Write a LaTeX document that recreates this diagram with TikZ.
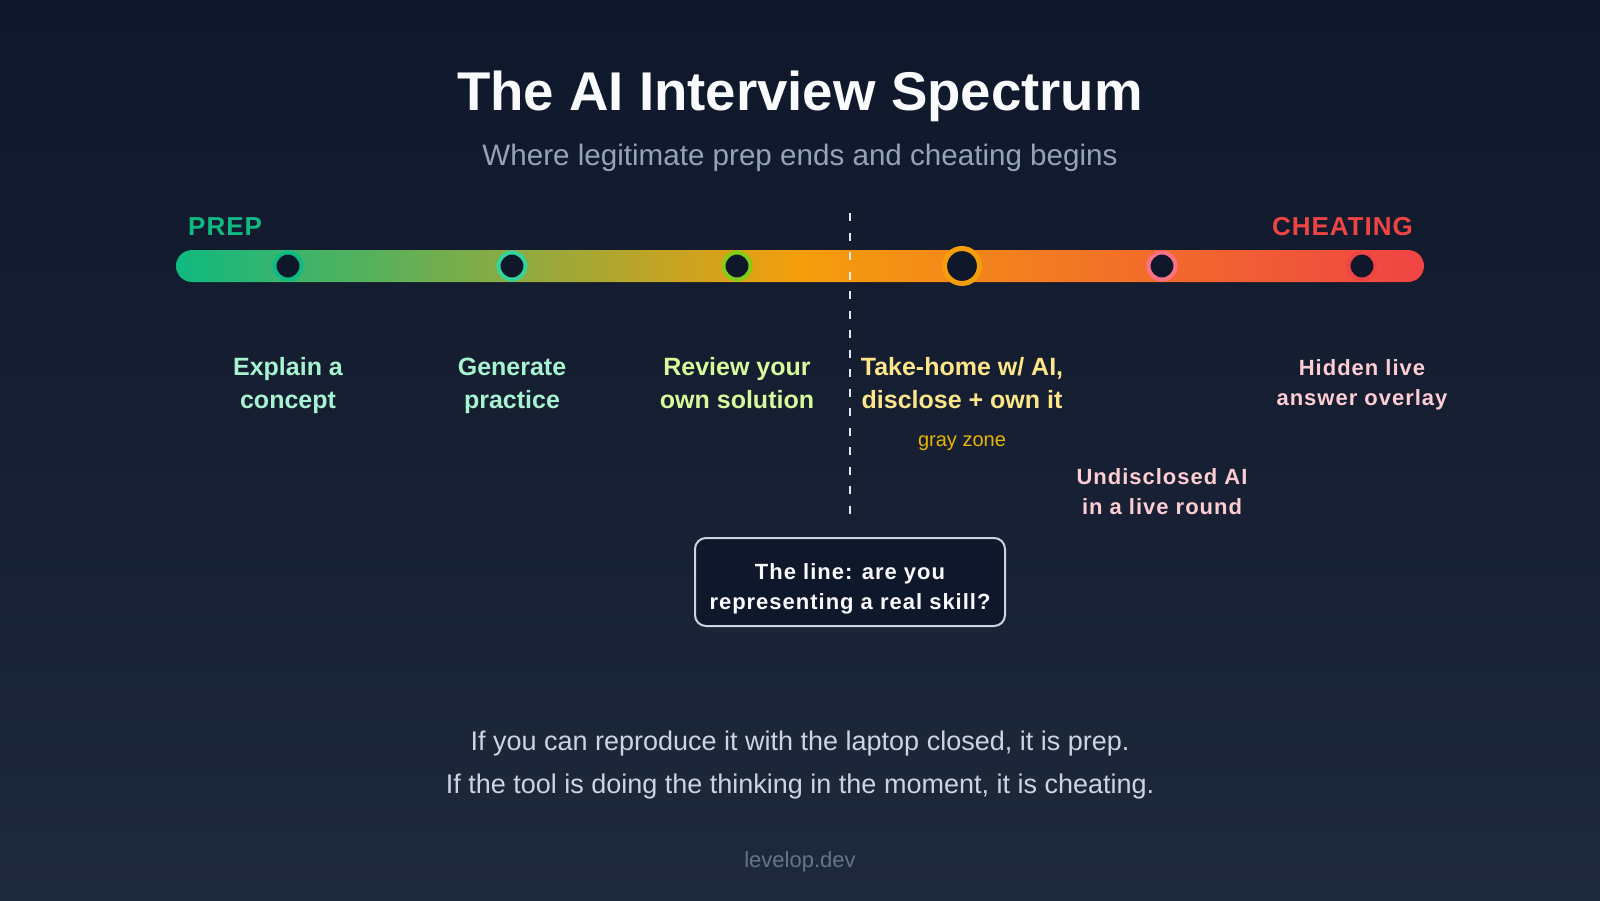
\documentclass[tikz,border=0pt]{standalone}
\usepackage{fontspec}
\setmainfont{Liberation Sans}
\newfontfamily\trackA[LetterSpace=4.5]{Liberation Sans}
\newfontfamily\trackB[LetterSpace=3.8]{Liberation Sans}
\definecolor{bgtop}{HTML}{0F172A}
\definecolor{bgbot}{HTML}{1E293B}
\definecolor{cgreen}{HTML}{10B981}
\definecolor{camber}{HTML}{F59E0B}
\definecolor{cred}{HTML}{EF4444}
\definecolor{ringmint}{HTML}{34D399}
\definecolor{ringlime}{HTML}{84CC16}
\definecolor{ringpink}{HTML}{FB7185}
\definecolor{dotfill}{HTML}{0F172A}
\definecolor{titlec}{HTML}{F8FAFC}
\definecolor{subc}{HTML}{94A3B8}
\definecolor{mintc}{HTML}{A7F3D0}
\definecolor{limec}{HTML}{D9F99D}
\definecolor{yellowc}{HTML}{FDE68A}
\definecolor{grayzonec}{HTML}{EAB308}
\definecolor{pinkc}{HTML}{FECDD3}
\definecolor{boxline}{HTML}{CBD5E1}
\definecolor{bottomc}{HTML}{CBD5E1}
\definecolor{footc}{HTML}{64748B}
\definecolor{dashc}{HTML}{E2E8F0}
\begin{document}
\begin{tikzpicture}[x=1pt,y=-1pt,
  dot/.style={circle, fill=dotfill, line width=4pt, minimum size=27pt, inner sep=0pt},
  bigdot/.style={circle, fill=dotfill, line width=5pt, minimum size=35pt, inner sep=0pt},
  steplabel/.style={align=center, anchor=base, inner sep=0pt, font=\bfseries\fontsize{25}{33}\selectfont},
  tracklabel/.style={align=center, anchor=base, inner sep=0pt, font=\trackA\bfseries\fontsize{22}{29.5}\selectfont},
  endlabel/.style={anchor=base, inner sep=0pt, font=\trackB\bfseries\fontsize{26}{30}\selectfont},
  linebox/.style={draw=boxline, line width=2pt, fill=dotfill, rounded corners=11pt,
     minimum width=310pt, minimum height=88pt, inner sep=0pt}
]
\useasboundingbox (0,0) rectangle (1600,900);
\fill[top color=bgtop, bottom color=bgbot] (0,0) rectangle (1600,900);

% title
\node[anchor=base, text=titlec, font=\bfseries\fontsize{54.6}{60}\selectfont] (title) at (800,110) {The AI Interview Spectrum};
\node[anchor=base, text=subc, font=\fontsize{29.6}{34}\selectfont] (subtitle) at (800,165) {Where legitimate prep ends and cheating begins};

% end labels
\node[endlabel, anchor=base west, text=cgreen] (prep) at (188,235) {PREP};
\node[endlabel, anchor=base east, text=cred] (cheat) at (1413,235) {CHEATING};

% bar
\fill[left color=cgreen, right color=cred, middle color=camber, rounded corners=16pt] (176,250) rectangle (1424,282);

% dashed line
\coordinate (ltop) at (850,213);
\coordinate (lbot) at (850,522);
\draw[dashc, line width=2pt, dash pattern=on 8pt off 11.5pt] (ltop) -- (lbot);

% markers
\node[dot, draw=cgreen] (c1) at (288,266) {};
\node[dot, draw=ringmint] (c2) at (512,266) {};
\node[dot, draw=ringlime] (c3) at (737,266) {};
\node[bigdot, draw=camber] (c4) at (962,266) {};
\node[dot, draw=ringpink] (c5) at (1162,266) {};
\node[dot, draw=cred] (c6) at (1362,266) {};

% labels (anchor base = baseline of last line)
\node[steplabel, text=mintc] (l1) at (288,408) {Explain a\\concept};
\node[steplabel, text=mintc] (l2) at (512,408) {Generate\\practice};
\node[steplabel, text=limec] (l3) at (737,408) {Review your\\own solution};
\node[steplabel, text=yellowc] (l4) at (962,408) {Take-home w/ AI,\\disclose + own it};
\node[anchor=base, inner sep=0pt, text=grayzonec, font=\fontsize{20}{24}\selectfont] (gz) at (962,446) {gray zone};
\node[tracklabel, text=pinkc] (l5) at (1162,514) {Undisclosed AI\\in a live round};
\node[tracklabel, text=pinkc] (l6) at (1362,405) {Hidden live\\answer overlay};

% box
\node[linebox] (box) at (850,582) {};
\node[tracklabel, text=titlec] (boxtext) at (850,609) {The line: are you\\representing a real skill?};

% bottom
\node[anchor=base, align=center, inner sep=0pt, text=bottomc, font=\fontsize{27}{43}\selectfont] (rule) at (800,793) {If you can reproduce it with the laptop closed, it is prep.\\If the tool is doing the thinking in the moment, it is cheating.};
\node[anchor=base, inner sep=0pt, text=footc, font=\fontsize{22}{26}\selectfont] (foot) at (800,867) {levelop.dev};
\end{tikzpicture}
\end{document}
